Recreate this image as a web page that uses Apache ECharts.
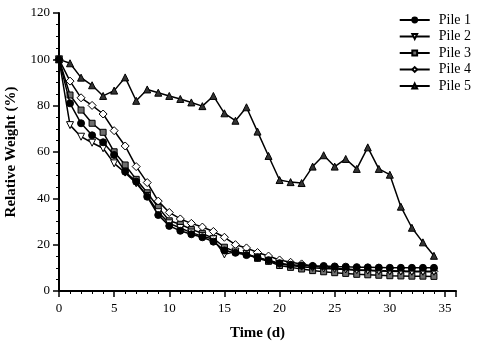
<!DOCTYPE html>
<html>
<head>
<meta charset="utf-8">
<script src="https://cdn.jsdelivr.net/npm/echarts@6/dist/echarts.min.js"></script>
<style>
  html, body { margin: 0; padding: 0; background: #fff; }
  #chart { width: 477px; height: 352px; }
</style>
</head>
<body>
<div id="chart"></div>
<script>
  // days 0..34
  var days = [];
  for (var d = 0; d <= 34; d++) days.push(d);

  var pile1 = [100, 81.0, 72.4, 67.2, 64.2, 58.7, 51.5, 47.2, 40.7, 32.8,
               28.1, 26.0, 24.5, 23.2, 21.3, 17.5, 16.5, 15.5, 14.5, 13.3,
               12.0, 11.3, 11.0, 10.8, 10.8, 10.6, 10.5, 10.3, 10.2, 10.1,
               10.0, 10.0, 10.0, 10.0, 10.0];
  var pile2 = [100, 71.6, 66.6, 64.0, 61.6, 55.1, 51.1, 46.5, 41.0, 34.0,
               29.2, 27.2, 25.2, 23.7, 22.3, 15.8, 17.0, 16.0, 14.5, 13.0,
               11.7, 11.0, 10.5, 10.0, 9.7, 9.5, 9.3, 9.0, 8.8, 8.6,
               8.5, 8.4, 8.3, 8.3, 8.3];
  var pile3 = [100, 84.6, 78.1, 72.4, 68.5, 60.1, 54.4, 48.2, 42.4, 36.1,
               30.3, 28.8, 26.6, 24.9, 22.7, 18.9, 17.0, 16.0, 14.1, 12.8,
               11.0, 10.2, 9.5, 8.8, 8.3, 7.9, 7.6, 7.2, 7.0, 6.8,
               6.6, 6.5, 6.4, 6.4, 6.3];
  var pile4 = [100, 90.6, 83.4, 80.1, 76.4, 69.2, 62.6, 53.7, 46.8, 38.8,
               33.9, 31.1, 29.2, 27.6, 25.7, 23.2, 20.0, 18.6, 16.6, 15.1,
               13.4, 12.4, 11.7, 10.8, 10.2, 9.8, 9.5, 9.2, 9.0, 8.8,
               8.7, 8.6, 8.5, 8.5, 8.5];
  var pile5 = [100, 98.3, 92.1, 88.8, 84.2, 86.5, 92.2, 82.1, 87.0, 85.6,
               84.2, 82.9, 81.4, 79.8, 84.2, 76.7, 73.5, 79.3, 68.8, 58.3,
               47.9, 47.0, 46.6, 53.7, 58.6, 53.7, 57.0, 52.7, 62.0, 52.7,
               50.2, 36.4, 27.3, 21.0, 15.2];

  var names = ['Pile 1', 'Pile 2', 'Pile 3', 'Pile 4', 'Pile 5'];

  var chart = echarts.init(document.getElementById('chart'));

  function pair(arr) {
    return arr.map(function (v, i) { return [days[i], v]; });
  }

  var serifFont = 'Liberation Serif';
  var styles = [
    {symbol: 'circle', size: 7, fill: '#000', rotate: 0},
    {symbol: 'triangle', size: 7, fill: '#fff', rotate: 180},
    {symbol: 'rect', size: 6, fill: '#6e6e6e', rotate: 0},
    {symbol: 'diamond', size: 8, fill: '#fff', rotate: 0},
    {symbol: 'triangle', size: 7, fill: '#333', rotate: 0}
  ];
  var allData = [pile1, pile2, pile3, pile4, pile5];

  var series = names.map(function (n, i) {
    var s = styles[i];
    return {
      name: n,
      type: 'line',
      data: pair(allData[i]),
      symbol: s.symbol,
      symbolSize: s.size,
      symbolRotate: s.rotate,
      showAllSymbol: true,
      lineStyle: {color: '#000', width: 1.5},
      itemStyle: {color: s.fill, borderColor: '#000', borderWidth: 1},
      z: 10 - i
    };
  });

  var option = {
    animation: false,
    backgroundColor: '#fff',
    legend: {
      orient: 'vertical',
      right: 1,
      top: 8,
      itemWidth: 30,
      itemHeight: 6,
      itemGap: 2.5,
      textStyle: {fontFamily: serifFont, fontSize: 14, color: '#000', padding: [0, 0, 0, 4]},
      data: names
    },
    grid: {left: 59, right: 21, top: 13, bottom: 61, outerBoundsMode: 'none'},
    xAxis: {
      type: 'value',
      min: 0, max: 36, interval: 5,
      name: 'Time (d)',
      nameLocation: 'middle',
      nameGap: 35,
      nameTextStyle: {fontFamily: serifFont, fontSize: 15, fontWeight: 'bold', color: '#000'},
      axisLine: {lineStyle: {color: '#000', width: 2}},
      axisTick: {length: 6, lineStyle: {color: '#000', width: 1.5}},
      minorTick: {show: true, splitNumber: 5, length: 3, lineStyle: {color: '#000', width: 1}},
      axisLabel: {fontFamily: serifFont, fontSize: 13, color: '#000', margin: 11,
        formatter: function (v) { return v > 35 ? '' : v; }},
      splitLine: {show: false}
    },
    yAxis: {
      type: 'value',
      min: 0, max: 120, interval: 20,
      name: 'Relative Weight (%)',
      nameLocation: 'middle',
      nameGap: 40,
      nameTextStyle: {fontFamily: serifFont, fontSize: 15, fontWeight: 'bold', color: '#000'},
      axisLine: {show: true, lineStyle: {color: '#000', width: 2}},
      axisTick: {show: true, length: 6, lineStyle: {color: '#000', width: 1.5}},
      minorTick: {show: true, splitNumber: 4, length: 3, lineStyle: {color: '#000', width: 1}},
      axisLabel: {fontFamily: serifFont, fontSize: 13, color: '#000', margin: 9},
      splitLine: {show: false}
    },
    series: series
  };
  chart.setOption(option);
</script>
</body>
</html>
